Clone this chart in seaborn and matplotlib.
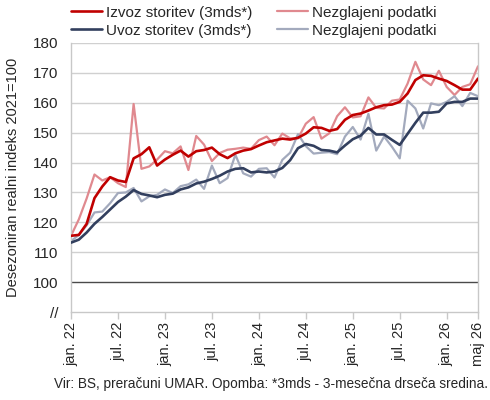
import numpy as np
import pandas as pd
import matplotlib
matplotlib.use("Agg")
import matplotlib.pyplot as plt
import seaborn as sns

# ---- data ----
months = pd.date_range("2022-01-01", periods=53, freq="MS")

izvoz_3mds = [115.5, 115.8, 119.5, 128.1, 132.0, 135.1, 134.0, 133.5, 141.4, 142.8,
              145.1, 139.0, 141.0, 142.6, 144.0, 142.0, 143.8, 144.2, 145.0, 142.8,
              141.5, 143.1, 144.0, 144.5, 145.7, 146.8, 147.4, 148.0, 147.7, 148.3,
              149.7, 151.8, 151.6, 150.6, 151.2, 154.3, 155.9, 156.4, 157.4, 158.5,
              159.2, 159.4, 160.3, 163.1, 167.6, 169.2, 169.0, 168.1, 167.3, 165.9,
              164.4, 164.4, 168.1]
izvoz_raw = [115.5, 121.0, 128.0, 136.0, 134.0, 135.1, 133.1, 131.8, 159.6, 137.9,
             138.7, 141.0, 143.8, 143.1, 145.4, 137.5, 148.9, 146.0, 140.5, 143.2,
             144.3, 144.6, 145.0, 144.6, 147.5, 148.7, 145.8, 149.7, 148.1, 148.1,
             153.0, 155.2, 148.0, 149.8, 155.5, 158.5, 155.1, 155.5, 161.8, 158.3,
             158.1, 160.7, 161.1, 166.4, 173.7, 167.8, 165.9, 170.7, 165.3, 162.6,
             165.3, 166.2, 172.2]
uvoz_3mds = [113.2, 114.2, 116.6, 119.5, 121.8, 124.3, 126.8, 128.6, 130.8, 129.5,
             129.0, 128.4, 129.2, 129.6, 131.0, 131.7, 133.0, 133.6, 134.5, 135.6,
             137.0, 137.9, 138.1, 136.7, 137.0, 136.7, 137.0, 138.2, 140.8, 144.8,
             146.2, 145.6, 144.2, 144.0, 143.4, 145.7, 147.8, 149.0, 151.6, 149.4,
             149.4, 147.6, 145.9, 149.6, 153.3, 156.7, 156.7, 157.0, 159.8, 160.3,
             160.3, 161.4, 161.4]
uvoz_raw = [113.7, 115.8, 119.0, 123.3, 123.6, 126.4, 129.8, 130.0, 131.5, 127.0,
            128.7, 129.2, 131.0, 129.8, 132.1, 132.7, 134.3, 131.2, 139.0, 133.1,
            134.8, 142.6, 136.4, 135.3, 137.9, 138.1, 135.0, 140.9, 143.3, 149.5,
            145.5, 143.0, 143.3, 143.5, 142.8, 148.7, 151.9, 147.7, 156.3, 144.0,
            148.7, 145.3, 141.4, 160.7, 158.1, 151.4, 159.8, 159.2, 160.3, 162.2,
            158.9, 163.3, 162.2]

tick_idx = [0, 6, 12, 18, 24, 30, 36, 42, 48, 52]
tick_labels = ["jan. 22", "jul. 22", "jan. 23", "jul. 23", "jan. 24",
               "jul. 24", "jan. 25", "jul. 25", "jan. 26", "maj 26"]
y_ticks = [90, 100, 110, 120, 130, 140, 150, 160, 170, 180]
y_labels = ["//", "100", "110", "120", "130", "140", "150", "160", "170", "180"]

label_izvoz = "Izvoz storitev (3mds*)"
label_uvoz = "Uvoz storitev (3mds*)"
label_raw = "Nezglajeni podatki"
ylabel = "Desezoniran realni indeks 2021=100"
note = "Vir: BS, preračuni UMAR. Opomba: *3mds - 3-mesečna drseča sredina."

# ---- figure ----
sns.set_style("white")
plt.rcParams["font.family"] = ["Liberation Sans", "DejaVu Sans"]

df = pd.DataFrame({
    "idx": np.arange(len(months)),
    "izvoz_3mds": izvoz_3mds,
    "izvoz_raw": izvoz_raw,
    "uvoz_3mds": uvoz_3mds,
    "uvoz_raw": uvoz_raw,
})

fig = plt.figure(figsize=(4.9, 4.0), dpi=100)
ax = fig.add_axes([71 / 490, 1 - 312 / 400, (478 - 71) / 490, (312 - 43) / 400])

c_red = "#C00000"
c_pink = "#E0898F"
c_navy = "#323F5E"
c_grey = "#A3AABD"

for v in y_ticks[2:]:
    ax.axhline(v, color="#D0D0D0", lw=1.0, zorder=0)
ax.axhline(100, color="#4A4A4A", lw=1.0, zorder=1)

sns.lineplot(data=df, x="idx", y="izvoz_raw", ax=ax, color=c_pink, lw=1.6,
             label=label_raw, zorder=2)
sns.lineplot(data=df, x="idx", y="uvoz_raw", ax=ax, color=c_grey, lw=1.6,
             label=label_raw, zorder=2)
sns.lineplot(data=df, x="idx", y="izvoz_3mds", ax=ax, color=c_red, lw=1.9,
             label=label_izvoz, zorder=3)
sns.lineplot(data=df, x="idx", y="uvoz_3mds", ax=ax, color=c_navy, lw=1.9,
             label=label_uvoz, zorder=3)

ax.set_xlim(0, len(months) - 1)
ax.set_ylim(90, 180)
ax.set_xticks(tick_idx)
ax.set_xticklabels(tick_labels, rotation=90, fontsize=10.5)
ax.set_yticks(y_ticks)
ax.set_yticklabels(y_labels, fontsize=11)
ax.set_xlabel("")
ax.set_ylabel(ylabel, fontsize=10.5, labelpad=9)

for side in ["left", "right", "bottom"]:
    ax.spines[side].set_visible(True)
    ax.spines[side].set_color("#C8C8C8")
    ax.spines[side].set_linewidth(1.0)
ax.spines["top"].set_visible(False)
ax.tick_params(axis="x", which="major", direction="out", length=5, width=1.0,
               color="#C8C8C8", pad=2, bottom=True)
ax.tick_params(axis="y", length=0, pad=9)

handles, labels = ax.get_legend_handles_labels()
# order: izvoz 3mds, uvoz 3mds (first column), raw pink, raw grey (second column)
order = [2, 3, 0, 1]
leg = ax.legend([handles[i] for i in order], [labels[i] for i in order],
                ncol=2, loc="lower left", bbox_to_anchor=(0.0, 1.02),
                frameon=False, fontsize=11, handlelength=2.0, handletextpad=0.3,
                columnspacing=1.6, labelspacing=0.25, borderaxespad=0.0,
                borderpad=0.0)

fig.text(0.995, 1 - 384 / 400, note, ha="right", va="center", fontsize=9.8)

fig.savefig("out.png", dpi=100)
